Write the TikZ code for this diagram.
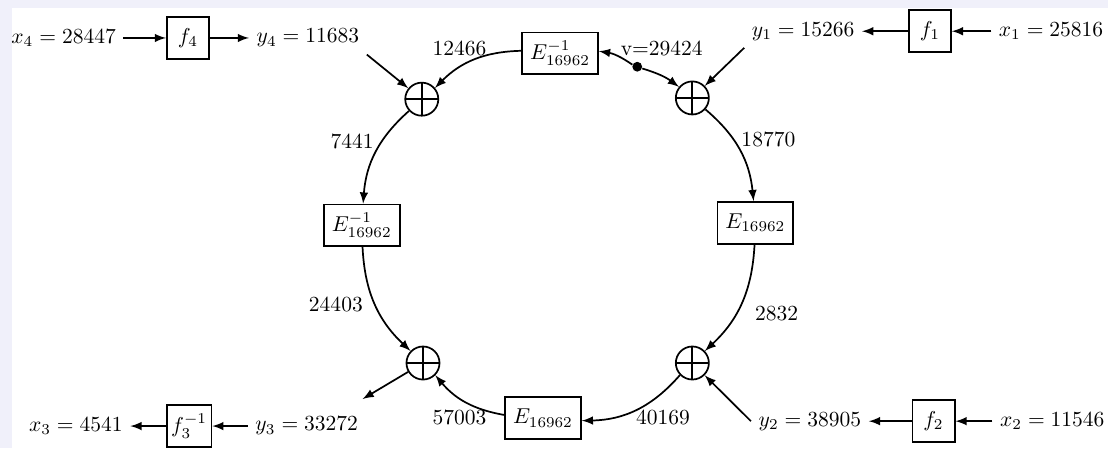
\documentclass[tikz,border=0pt]{standalone}
\usepackage{amsmath, amssymb}
\usepackage{xcolor}
\usetikzlibrary{positioning}
\definecolor{bandcol}{RGB}{240,240,250}

\begin{document}
\begin{tikzpicture}[>=latex]
    \tikzset{blk/.style={draw, thick, inner sep=2pt, minimum width=1.24cm, minimum height=0.68cm},
             fblk/.style={draw, thick, inner sep=2pt, minimum size=0.69cm},
             xorop/.style={circle, draw, thick, minimum size=0.54cm, inner sep=0pt,
                 path picture={\draw[thick] (path picture bounding box.north) -- (path picture bounding box.south)
                     (path picture bounding box.west) -- (path picture bounding box.east);}},
             vdot/.style={circle, fill, inner sep=0pt, minimum size=0.16cm},
             flow/.style={->, thick}}

    % frame
    \fill[bandcol] (-9.10,-3.48) rectangle (9.00,3.84);
    \fill[white] (-8.90,-3.48) rectangle (9.00,3.71);
    \useasboundingbox (-9.10,-3.48) rectangle (9.00,3.84);

    % ring
    \node[blk] (et) at (0.05,2.97) {$E^{-1}_{16962}$};
    \node[blk] (er) at (3.24,0.20) {$E_{16962}$};
    \node[blk] (eb) at (-0.23,-2.99) {$E_{16962}$};
    \node[blk] (el) at (-3.19,0.16) {$E^{-1}_{16962}$};

    \node[xorop] (tl) at (-2.21,2.22) {};
    \node[xorop] (tr) at (2.21,2.24) {};
    \node[xorop] (bl) at (-2.19,-2.09) {};
    \node[xorop] (br) at (2.21,-2.09) {};

    \node[vdot] (v) at (1.31,2.75) {};
    \node[above=0pt of v, xshift=0.4cm, yshift=-1pt] (vlab) {v=29424};

    % outer rows
    \node (x4) at (-8.06,3.22) {$x_4 = 28447$};
    \node[fblk] (f4) at (-6.03,3.22) {$f_4$};
    \node (y4) at (-4.07,3.22) {$y_4 = 11683$};

    \node (y1) at (4.02,3.33) {$y_1 = 15266$};
    \node[fblk] (f1) at (6.09,3.33) {$f_1$};
    \node (x1) at (8.07,3.33) {$x_1 = 25816$};

    \node (x3) at (-7.86,-3.12) {$x_3 = 4541$};
    \node[fblk] (f3) at (-6.01,-3.12) {$f_3^{-1}$};
    \node (y3) at (-4.09,-3.12) {$y_3 = 33272$};

    \node (y2) at (4.13,-3.04) {$y_2 = 38905$};
    \node[fblk] (f2) at (6.15,-3.04) {$f_2$};
    \node (x2) at (8.09,-3.04) {$x_2 = 11546$};

    \draw[flow] (x4) -- (f4);
    \draw[flow] (f4) -- (y4);
    \draw[flow] (y4.south east) -- (tl);
    \draw[flow] (x1) -- (f1);
    \draw[flow] (f1) -- (y1);
    \draw[flow] (y1.south west) -- (tr);
    \draw[flow] (x2) -- (f2);
    \draw[flow] (f2) -- (y2);
    \draw[flow] (y2.west) -- (br);
    \draw[flow] (y3) -- (f3);
    \draw[flow] (f3) -- (x3);
    \draw[flow] (bl) -- ([shift={(-0.05,0.17)}]y3.north east);

    \draw[flow] (et) to[bend right=22] node[pos=0.6, above, xshift=-3pt] {12466} (tl);
    \draw[flow] (tl) to[bend right=22] node[pos=0.38, left] {7441} (el);
    \draw[flow] (el) to[bend right=22] node[pos=0.5, left, xshift=-2pt] {24403} (bl);
    \draw[flow] (eb) to[bend left=20] node[pos=0.6, below, yshift=-2pt] {57003} (bl);
    \draw[flow] (br) to[bend left=24] node[pos=0.25, below, yshift=-3pt, xshift=2pt] {40169} (eb);
    \draw[flow] (er) to[bend left=22] node[pos=0.6, right, xshift=5pt] {2832} (br);
    \draw[flow] (tr) to[bend left=22] node[pos=0.38, right] {18770} (er);
    \draw[flow] (v) to[bend right=13] (et);
    \draw[flow] (v) to[bend left=10] (tr);
\end{tikzpicture}
\end{document}
